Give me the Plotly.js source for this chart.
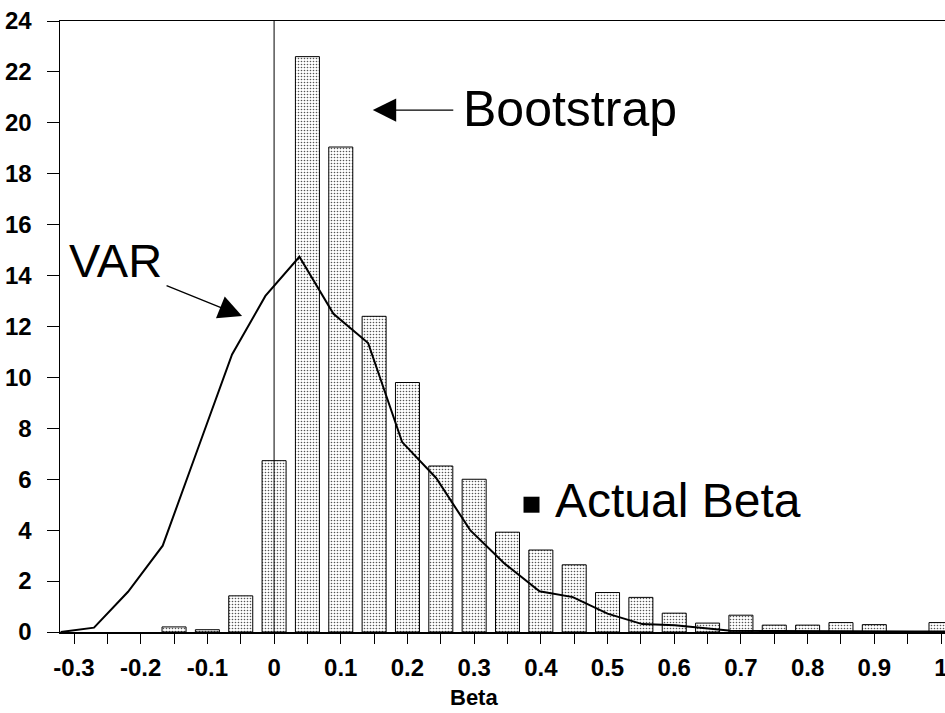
<!DOCTYPE html>
<html>
<head>
<meta charset="utf-8">
<script src="https://cdn.plot.ly/plotly-3.0.1.min.js"></script>
<style>html,body{margin:0;padding:0;background:#fff;}#chart{width:945px;height:713px;}</style>
</head>
<body>
<div id="chart"></div>
<script>
// Bootstrap histogram (bin centres and heights)
const binCenters = [-0.15, -0.10, -0.05, 0.00, 0.05, 0.10, 0.15, 0.20, 0.25, 0.30, 0.35, 0.40,
                    0.45, 0.50, 0.55, 0.60, 0.65, 0.70, 0.75, 0.80, 0.85, 0.90, 0.95, 1.00];
const bootstrap = [0.2, 0.09, 1.42, 6.73, 22.6, 19.05, 12.4, 9.8, 6.52, 6.0, 3.92, 3.22,
                   2.64, 1.55, 1.36, 0.74, 0.35, 0.66, 0.27, 0.27, 0.37, 0.29, 0, 0.37];

// VAR density line
const varX = [-0.32, -0.27, -0.219, -0.167, -0.115, -0.063, -0.013, 0.038, 0.089, 0.141, 0.192, 0.243,
              0.294, 0.345, 0.398, 0.448, 0.5, 0.552, 0.601, 0.652, 0.685, 0.755, 0.806, 0.857, 0.909, 0.96, 1.011];
const varY = [0, 0.17, 1.58, 3.39, 7.15, 10.9, 13.2, 14.74, 12.5, 11.35, 7.46, 6.05,
              4.0, 2.7, 1.6, 1.37, 0.72, 0.31, 0.27, 0.15, 0.05, 0.04, 0.03, 0.03, 0.03, 0.02, 0.02];

// Actual beta marker
const actualX = [0.386];
const actualY = [5.0];

// Axis ticks
const xTickVals = [-0.3, -0.2, -0.1, 0, 0.1, 0.2, 0.3, 0.4, 0.5, 0.6, 0.7, 0.8, 0.9, 1];
const xTickText = ["-0.3", "-0.2", "-0.1", "0", "0.1", "0.2", "0.3", "0.4", "0.5", "0.6", "0.7", "0.8", "0.9", "1"];
const yTickVals = [0, 2, 4, 6, 8, 10, 12, 14, 16, 18, 20, 22, 24];

const FONT = "Liberation Sans, Arial, Helvetica, sans-serif";

const traces = [
  {
    type: "bar",
    x: binCenters,
    y: bootstrap,
    width: 0.036,
    marker: {
      color: "#ffffff",
      line: {color: "#000", width: 1},
      pattern: {shape: ".", size: 3, solidity: 0.22, fgcolor: "#555", bgcolor: "#fff", fillmode: "replace"}
    },
    hoverinfo: "skip"
  },
  {
    type: "scatter",
    mode: "lines",
    x: varX,
    y: varY,
    line: {color: "#000", width: 2},
    hoverinfo: "skip"
  },
  {
    type: "scatter",
    mode: "markers",
    x: actualX,
    y: actualY,
    marker: {symbol: "square", size: 16, color: "#000"},
    hoverinfo: "skip"
  }
];

const layout = {
  width: 945,
  height: 713,
  margin: {l: 60, r: 0, t: 21, b: 81, pad: 0},
  paper_bgcolor: "#fff",
  plot_bgcolor: "#fff",
  showlegend: false,
  bargap: 0,
  font: {family: FONT, color: "#000"},
  xaxis: {
    range: [-0.321, 1.006],
    tickmode: "array",
    tickvals: xTickVals,
    ticktext: xTickText,
    ticks: "outside",
    ticklen: 10,
    tickwidth: 1,
    tickcolor: "#000",
    minor: {dtick: 0.05, tick0: 0, ticks: "outside", ticklen: 10, tickwidth: 1, tickcolor: "#000", showgrid: false},
    showline: true,
    linecolor: "#000",
    linewidth: 1.5,
    mirror: true,
    showgrid: false,
    zeroline: false,
    tickfont: {family: FONT, size: 24, color: "#000", weight: "bold"},
    ticklabelstandoff: 4,
    ticklabeloverflow: "allow"
  },
  yaxis: {
    range: [0, 24],
    tickmode: "array",
    tickvals: yTickVals,
    ticks: "outside",
    ticklen: 12,
    tickwidth: 1,
    tickcolor: "#000",
    showline: true,
    linecolor: "#000",
    linewidth: 1.5,
    mirror: false,
    showgrid: false,
    zeroline: false,
    tickfont: {family: FONT, size: 24, color: "#000", weight: "bold"},
    ticklabelstandoff: 10,
    ticklabeloverflow: "allow"
  },
  shapes: [
    {type: "line", xref: "x", yref: "paper", x0: 0, x1: 0, y0: 0, y1: 1, line: {color: "#000", width: 1}}
  ],
  annotations: [
    {xref: "x", yref: "y", x: 0.28, y: 20.55, text: "Bootstrap", showarrow: false,
     xanchor: "left", yanchor: "middle", font: {family: FONT, size: 50, color: "#000"}},
    {xref: "x", yref: "y", x: 0.148, y: 20.5, text: "", showarrow: true, ax: 82, ay: 0,
     arrowhead: 2, arrowsize: 3.6, arrowwidth: 1.3, arrowcolor: "#000"},
    {xref: "x", yref: "y", x: -0.311, y: 14.6, text: "VAR", showarrow: false,
     xanchor: "left", yanchor: "middle", font: {family: FONT, size: 47, color: "#000"}},
    {xref: "x", yref: "y", x: -0.048, y: 12.41, text: "", showarrow: true, ax: -77, ay: -31,
     arrowhead: 2, arrowsize: 3.6, arrowwidth: 1.3, arrowcolor: "#000"},
    {xref: "x", yref: "y", x: 0.418, y: 5.15, text: "Actual Beta", showarrow: false,
     xanchor: "left", yanchor: "middle", font: {family: FONT, size: 48, color: "#000"}},
    {xref: "x", yref: "paper", x: 0.3, y: -0.108, text: "Beta", showarrow: false,
     xanchor: "center", yanchor: "middle", font: {family: FONT, size: 22, color: "#000", weight: "bold"}}
  ]
};

Plotly.newPlot("chart", traces, layout, {displayModeBar: false, staticPlot: true});
</script>
</body>
</html>
